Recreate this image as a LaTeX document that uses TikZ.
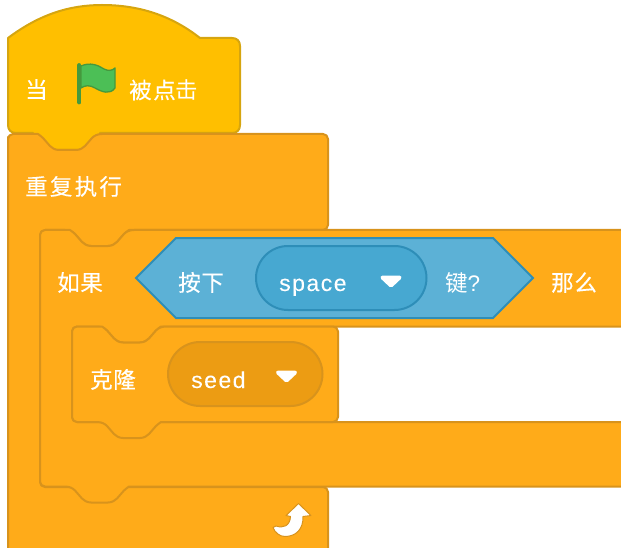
\documentclass[tikz,border=0pt]{standalone}
\usepackage{fontspec}
\newfontfamily\cjk[LetterSpace=3,FakeBold=0.25]{Noto Sans CJK SC}
\newfontfamily\cjkwide[LetterSpace=10,FakeBold=0.25]{Noto Sans CJK SC}
\newfontfamily\cjkmid[LetterSpace=7,FakeBold=0.25]{Noto Sans CJK SC}
\newfontfamily\cjkthin[LetterSpace=7]{Noto Sans CJK SC}
\newfontfamily\latn[LetterSpace=6.5,FakeBold=0.1]{Liberation Sans}
\newfontfamily\latnq{Liberation Sans}
% notch seen from left to right, and tab from right to left
\def\nR#1#2{[sharp corners] .. controls (#1+5,#2) and (#1+8,#2+2) .. (#1+10,#2+4) -- (#1+17,#2+12) .. controls (#1+19,#2+14) and (#1+22,#2+16) .. (#1+26,#2+16) -- (#1+43,#2+16) .. controls (#1+47,#2+16) and (#1+50,#2+14) .. (#1+52,#2+12) -- (#1+59,#2+4) .. controls (#1+61,#2+2) and (#1+64,#2) .. (#1+69,#2) [rounded corners=5pt]}
\def\nL#1#2{[sharp corners] .. controls (#1+64,#2) and (#1+61,#2+2) .. (#1+59,#2+4) -- (#1+52,#2+12) .. controls (#1+50,#2+14) and (#1+47,#2+16) .. (#1+43,#2+16) -- (#1+26,#2+16) .. controls (#1+22,#2+16) and (#1+19,#2+14) .. (#1+17,#2+12) -- (#1+10,#2+4) .. controls (#1+8,#2+2) and (#1+5,#2) .. (#1,#2) [rounded corners=5pt]}
\definecolor{hatfill}{HTML}{FFBF00}
\definecolor{hatline}{HTML}{D6A50F}
\definecolor{ctlfill}{HTML}{FFAB19}
\definecolor{ctlline}{HTML}{D8931C}
\definecolor{senfill}{HTML}{5CB1D6}
\definecolor{senline}{HTML}{2E8EB8}
\definecolor{senpill}{HTML}{47A8D1}
\definecolor{ctlpill}{HTML}{EC9C13}
\definecolor{flagfill}{HTML}{4CBF56}
\definecolor{flagline}{HTML}{45993D}
\tikzset{
  hatblock/.style={draw=hatline,fill=hatfill,line width=2pt,line join=round},
  ctlblock/.style={draw=ctlline,fill=ctlfill,line width=2pt,line join=round,rounded corners=5pt},
  sensor/.style={draw=senline,fill=senfill,line width=2pt,line join=miter},
  menupill/.style={line width=2pt},
  caret/.style={fill=white,draw=white,line width=4pt,line join=round},
  label/.style={anchor=base west,inner sep=0pt,text=white,font=\cjk\fontsize{22.5}{23}\selectfont},
  labelmid/.style={label,font=\cjkmid\fontsize{22.5}{23}\selectfont},
  labelwide/.style={label,font=\cjkwide\fontsize{22.5}{23}\selectfont},
  word/.style={anchor=base west,inner sep=0pt,text=white,font=\latn\fontsize{23}{23}\selectfont},
}
\begin{document}
\begin{tikzpicture}[x=1pt,y=-1pt]
\useasboundingbox (0,0) rectangle (621,548);
\clip (0,0) rectangle (621,548);
% hat block
\path[hatblock] (8,38) .. controls (40,14) and (70,5) .. (102,5)
  .. controls (140,5) and (172,16) .. (200,38) -- (232,38)
  .. controls (237,38) and (240,41) .. (240,46) -- (240,125)
  .. controls (240,130) and (237,133) .. (232,133) -- (100,133) -- (100,150) -- (33,150) -- (33,133) -- (16,133)
  .. controls (11,133) and (8,130) .. (8,125) -- cycle;
% forever block
\path[ctlblock] (8,142) -- (8,134) -- (33,134) \nR{33}{134} -- (328,134) -- (328,230)
  -- (134,230) \nL{65}{230} -- (40,230) -- (40,487) -- (328,487) -- (328,556) -- (8,556) -- cycle;
% if block
\path[ctlblock] (40,230) -- (65,230) \nR{65}{230} -- (640,230) -- (640,326.5)
  -- (166,326.5) \nL{97}{326.5} -- (72,326.5) -- (72,422) -- (640,422) -- (640,486.5) -- (134,486.5) \nL{65}{486.5} -- (40,486.5) -- cycle;
% clone block
\path[ctlblock] (72,326.5) -- (97,326.5) \nR{97}{326.5} -- (338,326.5) -- (338,422) -- (166,422) \nL{97}{422} -- (72,422) -- cycle;
% sensing hexagon
\path[sensor] (136,278) -- (176,238) -- (493,238) -- (533,278) -- (493,318) -- (176,318) -- cycle;
\draw[menupill,draw=senline,fill=senpill,rounded corners=32pt] (256,246) rectangle (426.5,310);
\draw[menupill,draw=ctlline,fill=ctlpill,rounded corners=32pt] (168,342) rectangle (322.5,406);
% carets
\path[caret] (382.5,277.5) -- (399.5,277.5) -- (391,285.5) -- cycle;
\path[caret] (278,372.5) -- (295,372.5) -- (286.5,380.5) -- cycle;
% flag
\path[draw=flagline,fill=flagfill,line width=1.3pt,line join=round] (81,66)
  .. controls (90,62) and (98,65) .. (104,69) .. controls (108,71) and (112,71) .. (115,68)
  -- (115,88) .. controls (110,95) and (102,92) .. (95,88) .. controls (90,85) and (85,85) .. (81,88) -- cycle;
\draw[flagline,line width=3.8pt,line cap=round] (79.3,65) -- (79.3,102.5);
% loop arrow
\path[fill=white,draw=ctlline,line width=1pt,line join=round] (298.5,503.5) -- (311,515.5) -- (303,516.5)
  .. controls (303.5,529) and (296,536.5) .. (285,536.5) .. controls (280,536.5) and (275,533) .. (273,527.5)
  -- (276,526) .. controls (283,528.5) and (290,526) .. (290.5,516.5) -- (286,515.5) -- cycle;
% texts
\node[label] (t1) at (25,98) {当};
\node[labelmid] (t2) at (129,98.5) {被点{\cjkthin 击}};
\node[labelwide] (t3) at (25,195) {重复执行};
\node[label] (t4) at (57,291) {如果};
\node[label] (t5) at (178,291) {按下};
\node[word] (t6) at (279,291) {space};
\node[label] (t7) at (445,291) {{\cjkthin 键}\latnq ?};
\node[label] (t8) at (551,291) {那么};
\node[label] (t9) at (90,388) {克隆};
\node[word] (t10) at (191,388) {seed};
\end{tikzpicture}
\end{document}
